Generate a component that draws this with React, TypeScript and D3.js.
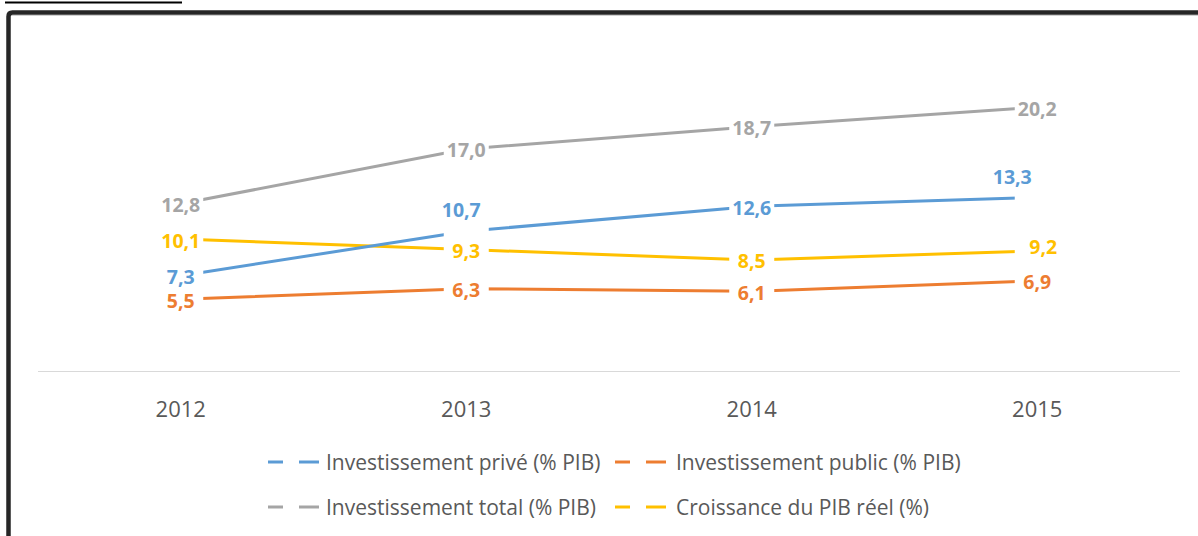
import React from 'react';
import * as d3 from 'd3';

const years = ['2012', '2013', '2014', '2015'];
const investPrive = [7.3, 10.7, 12.6, 13.3];
const investPublic = [5.5, 6.3, 6.1, 6.9];
const investTotal = [12.8, 17.0, 18.7, 20.2];
const croissancePIB = [10.1, 9.3, 8.5, 9.2];
const seriesNames = [
  'Investissement privé (% PIB)',
  'Investissement public (% PIB)',
  'Investissement total (% PIB)',
  'Croissance du PIB réel (%)',
];
const yDomain = [0, 25];

const W = 1198;
const H = 536;
const FONT = '"Open Sans", Lato, sans-serif';

const colors = ['#5B9BD5', '#ED7D31', '#A5A5A5', '#FFC000'];

const fr = d3.formatLocale({ decimal: ',', thousands: ' ', grouping: [3], currency: ['', '€'] });
const fmt = fr.format('.1f');

export default function App() {
  const x = d3.scaleBand<string>().domain(years).range([38, 1180]);
  const y = d3.scaleLinear().domain(yDomain).range([371, 44.5]);
  const cx = (yr: string) => (x(yr) as number) + x.bandwidth() / 2;

  const series = [investPrive, investPublic, investTotal, croissancePIB].map((vals, i) => ({
    name: seriesNames[i],
    color: colors[i],
    points: vals.map((v, j) => ({ yr: years[j], v, j })),
  }));
  const drawOrder = [2, 3, 1, 0];

  const line = d3
    .line<{ yr: string; v: number }>()
    .x((d) => cx(d.yr))
    .y((d) => y(d.v));

  const labelOffset = (si: number, pj: number): [number, number] => {
    if (si === 0 && pj === 1) return [-5, -23];
    if (si === 0 && pj === 3) return [-25, -22];
    if (si === 3 && pj === 3) return [6, -5];
    return [0, 0];
  };

  const legendPos = [
    { sx: 268, tx: 326, y: 462 },
    { sx: 615, tx: 676, y: 462 },
    { sx: 268, tx: 326, y: 507 },
    { sx: 615, tx: 676, y: 507 },
  ];

  return (
    <svg width={W} height={H} style={{ position: 'absolute', left: 0, top: 0, background: '#fff' }}>
      <rect x={0} y={0} width={W} height={H} fill="#fff" />
      <line x1={5} x2={182} y1={2.5} y2={2.5} stroke="#000" strokeWidth={2} />
      <line x1={10} x2={W} y1={15.5} y2={15.5} stroke="#d0d0d0" strokeWidth={1} />
      <path d={`M8.5,${H + 5} L8.5,16.5 Q8.5,12.5 12.5,12.5 L${W + 5},12.5`} fill="none" stroke="#262626" strokeWidth={4.5} />

      <line x1={38} x2={1180} y1={371.5} y2={371.5} stroke="#D9D9D9" strokeWidth={1} />
      {years.map((yr) => (
        <text key={yr} x={cx(yr)} y={408} textAnchor="middle" dominantBaseline="central" fontFamily={FONT} fontSize={22} fill="#595959">
          {yr}
        </text>
      ))}

      {drawOrder.map((si) => (
        <path key={'l' + si} d={line(series[si].points) || ''} fill="none" stroke={series[si].color} strokeWidth={3} strokeLinecap="butt" />
      ))}
      {drawOrder.map((si) =>
        series[si].points.map((p) => (
          <rect key={'r' + si + p.j} x={cx(p.yr) - 22.5} y={y(p.v) - 8} width={45} height={16} fill="#fff" />
        ))
      )}
      {drawOrder.map((si) =>
        series[si].points.map((p) => {
          const [dx, dy] = labelOffset(si, p.j);
          return (
            <text
              key={'t' + si + p.j}
              x={cx(p.yr) + dx}
              y={y(p.v) + dy + 1}
              textAnchor="middle"
              dominantBaseline="central"
              fontFamily={FONT}
              fontWeight="bold"
              fontSize={19.5}
              fill={series[si].color}
            >
              {fmt(p.v)}
            </text>
          );
        })
      )}

      {series.map((s, i) => {
        const lp = legendPos[i];
        return (
          <g key={'lg' + i}>
            <line x1={lp.sx} x2={lp.sx + 15} y1={lp.y} y2={lp.y} stroke={s.color} strokeWidth={3} />
            <line x1={lp.sx + 31} x2={lp.sx + 51} y1={lp.y} y2={lp.y} stroke={s.color} strokeWidth={3} />
            <text x={lp.tx} y={lp.y} dominantBaseline="central" fontFamily={FONT} fontSize={21} fill="#595959">
              {s.name}
            </text>
          </g>
        );
      })}
    </svg>
  );
}
